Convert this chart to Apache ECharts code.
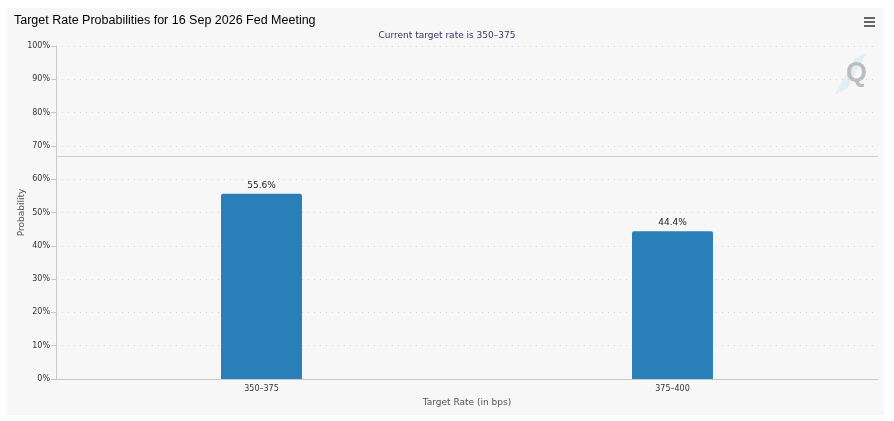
<!DOCTYPE html>
<html><head><meta charset="utf-8">
<script src="https://cdn.jsdelivr.net/npm/echarts@6/dist/echarts.min.js"></script>
<style>html,body{margin:0;padding:0;background:#fff;}#c{width:894px;height:421px;}</style>
</head><body><div id="c"></div>
<script>
const categories = ['350–375', '375–400'];
const probabilities = [55.6, 44.4];
const yTicks = [0, 10, 20, 30, 40, 50, 60, 70, 80, 90, 100];
const refLine = 66.8;
const titleText = 'Target Rate Probabilities for 16 Sep 2026 Fed Meeting';
const subtitleText = 'Current target rate is 350–375';

const chart = echarts.init(document.getElementById('c'), null, {renderer: 'canvas'});
const font = 'Lucida Grande, DejaVu Sans, Verdana, sans-serif';
const streaks = [];
for (let i = 0; i < 6; i++) {
  streaks.push({type: 'line', shape: {x1: 836 + i * 2, y1: 94 - i, x2: 856 + i * 2, y2: 58 - i},
    style: {stroke: 'rgba(130,200,235,0.28)', lineWidth: 1}});
}
chart.setOption({
  animation: false,
  backgroundColor: '#ffffff',
  graphic: [
    {type: 'rect', shape: {x: 7, y: 8, width: 877, height: 407}, style: {fill: '#f7f7f7'}, z: -10},
    {type: 'text', left: 14, top: 14, style: {text: titleText, font: '12.5px "Liberation Sans", Arial, sans-serif', fill: '#000'}},
    {type: 'text', left: 'center', top: 31, style: {text: subtitleText, font: '9px ' + font, fill: '#333366'}},
    {type: 'group', left: 864, top: 17, children: [
      {type: 'rect', shape: {x: 0, y: 0, width: 11, height: 2}, style: {fill: '#666'}},
      {type: 'rect', shape: {x: 0, y: 4, width: 11, height: 2}, style: {fill: '#666'}},
      {type: 'rect', shape: {x: 0, y: 8, width: 11, height: 2}, style: {fill: '#666'}}
    ]},
    ...streaks,
    {type: 'text', left: 846, top: 60, style: {text: 'Q', font: 'bold 27px "Liberation Sans", Arial, sans-serif', fill: '#bdbdbd'}}
  ],
  grid: {left: 56, right: 16, top: 46, bottom: 42},
  xAxis: {
    type: 'category',
    data: categories,
    name: 'Target Rate (in bps)',
    nameLocation: 'middle',
    nameGap: 19,
    nameMoveOverlap: false,
    nameTextStyle: {fontSize: 9, color: '#555', fontFamily: font},
    axisLine: {lineStyle: {color: '#c8c8c8'}},
    axisTick: {alignWithLabel: true, length: 4, lineStyle: {color: '#c8c8c8'}},
    axisLabel: {fontSize: 8, color: '#333', fontFamily: font, margin: 6}
  },
  yAxis: {
    type: 'value',
    min: 0, max: 100, interval: 10,
    name: 'Probability',
    nameLocation: 'middle',
    nameGap: 30,
    nameMoveOverlap: false,
    nameTextStyle: {fontSize: 9, color: '#555', fontFamily: font},
    axisLine: {show: true, lineStyle: {color: '#c8c8c8'}},
    axisTick: {show: true, length: 5, lineStyle: {color: '#c8c8c8'}},
    axisLabel: {fontSize: 8, color: '#333', fontFamily: font, margin: 6,
      formatter: v => yTicks.includes(v) ? v + '%' : ''},
    splitLine: {lineStyle: {color: '#d4d4d4', type: [1, 5]}}
  },
  series: [{
    type: 'bar',
    data: probabilities,
    barWidth: '19.7%',
    itemStyle: {color: '#2980b9', borderRadius: [2, 2, 0, 0]},
    label: {show: true, position: 'top', formatter: p => p.value + '%', fontSize: 9, color: '#222', fontFamily: font, distance: 4},
    markLine: {
      silent: true, symbol: 'none', label: {show: false},
      lineStyle: {color: '#cccccc', type: 'solid', width: 1},
      data: [{yAxis: refLine}]
    }
  }]
});
</script></body></html>
